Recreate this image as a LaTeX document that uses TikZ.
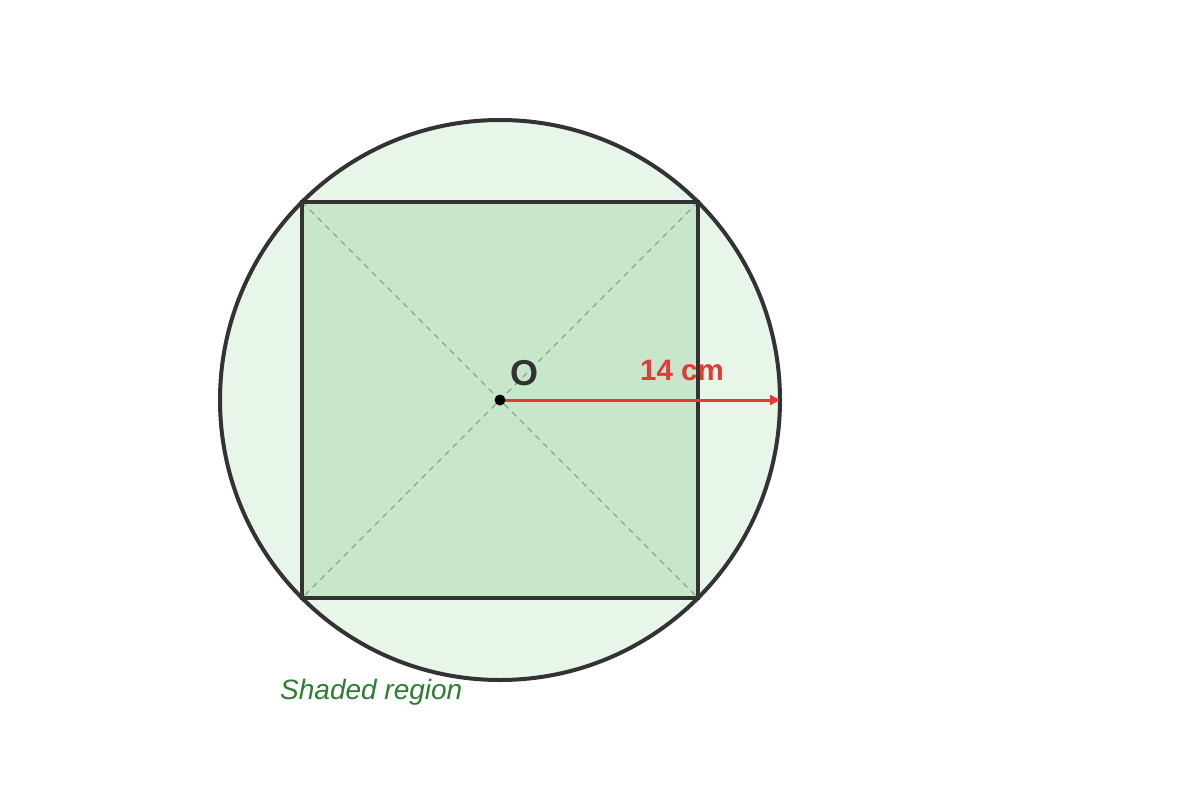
\documentclass[tikz,border=0pt]{standalone}
\usepackage{fontspec}
\setmainfont{Liberation Sans}
\usetikzlibrary{arrows.meta}
\definecolor{outerfill}{HTML}{E8F5E9}
\definecolor{innerfill}{HTML}{C8E6C9}
\definecolor{stroke}{HTML}{333333}
\definecolor{redc}{HTML}{E53935}
\definecolor{greentext}{HTML}{2E7D32}
\definecolor{diagc}{HTML}{8FA890}
\begin{document}
\begin{tikzpicture}[x=1pt,y=-1pt,
  outline/.style={draw=stroke,line width=4pt},
  diag/.style={draw=diagc,line width=1.4pt,dash pattern=on 6pt off 5pt},
  lbl/.style={inner sep=0pt,anchor=center}]
\useasboundingbox (0,0) rectangle (1200,800);
\coordinate (O) at (500,400);
\coordinate (A) at (302,202);
\coordinate (B) at (698,202);
\coordinate (C) at (698,598);
\coordinate (D) at (302,598);
\coordinate (R) at (780,400);
\fill[outerfill] (O) circle[radius=280];
\fill[innerfill] (A) rectangle (C);
\draw[diag] (A) -- (C);
\draw[diag] (B) -- (D);
\node[lbl,text=redc,font=\bfseries\fontsize{29.5}{32}\selectfont] (r) at (682,370) {14 cm};
\draw[outline] (O) circle[radius=280];
\draw[outline] (A) -- (B) -- (C) -- (D) -- cycle;
\draw[draw=redc,line width=3pt,-{Triangle[length=10pt,width=10pt]}] (O) -- (R);
\fill[stroke] (O) circle[radius=5.5];
\node[lbl,text=stroke,font=\bfseries\fontsize{36}{40}\selectfont] (o) at (524,373) {O};
\node[lbl,anchor=west,text=greentext,font=\itshape\fontsize{28}{32}\selectfont] (s) at (280,692) {Shaded region};
\end{tikzpicture}
\end{document}
